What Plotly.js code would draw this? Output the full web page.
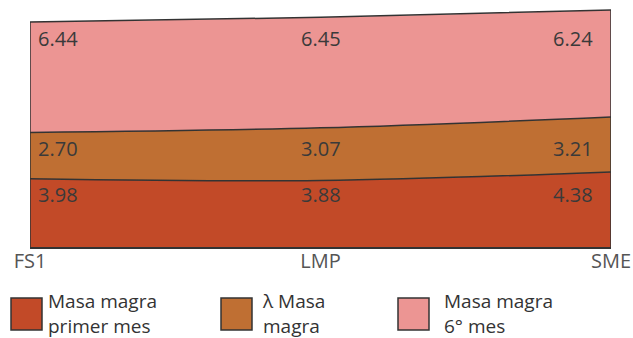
<!DOCTYPE html>
<html>
<head>
<meta charset="utf-8">
<script src="https://cdn.plot.ly/plotly-3.0.1.min.js"></script>
<style>
  html, body { margin: 0; padding: 0; background: #fff; }
  #chart { width: 633px; height: 338px; }
</style>
</head>
<body>
<div id="chart"></div>
<script>
// Lean-mass components per group, stacked bottom to top
const categories = ['FS1', 'LMP', 'SME'];
const primerMes = [3.98, 3.88, 4.38];
const lambdaMasa = [2.70, 3.07, 3.21];
const sextoMes = [6.44, 6.45, 6.24];

const seriesValues = [primerMes, lambdaMasa, sextoMes];
const seriesNames = ['Masa magra<br>primer mes', 'λ Masa<br>magra', 'Masa magra<br>6° mes'];
const seriesColors = ['#C24A28', '#BF6F33', '#EC9593'];

const W = 633, H = 338;
const M = { l: 30, r: 22, t: 7, b: 91 };
const plotW = W - M.l - M.r, plotH = H - M.t - M.b;
const px2x = px => (px - M.l) / plotW;
const px2y = py => (H - M.b - py) / plotH;

const lineStyle = { color: '#333', width: 1.5, shape: 'spline' };
const font = 'Open Sans, Liberation Sans, sans-serif';

const traces = seriesValues.map((vals, i) => ({
  type: 'scatter',
  mode: 'lines',
  x: categories,
  y: vals,
  stackgroup: 'one',
  fillcolor: seriesColors[i],
  line: lineStyle,
  name: seriesNames[i],
  hoverinfo: 'skip',
  showlegend: false
}));

// running totals for label placement and side edges
const cumulative = seriesValues.map((_, i) =>
  categories.map((_, j) => seriesValues.slice(0, i + 1).reduce((s, a) => s + a[j], 0)));
const totals = cumulative[cumulative.length - 1];

[0, categories.length - 1].forEach(j => {
  traces.push({
    type: 'scatter', mode: 'lines',
    x: [categories[j], categories[j]], y: [0, totals[j]],
    line: { color: '#333', width: 1.5 }, hoverinfo: 'skip', showlegend: false
  });
});

// value labels: one row per band, level with the band's top at the first group
const annotations = [];
seriesValues.forEach((vals, i) => {
  vals.forEach((v, j) => {
    const last = j === categories.length - 1;
    annotations.push({
      x: categories[j], y: cumulative[i][0], xref: 'x', yref: 'y',
      text: v.toFixed(2), showarrow: false,
      xanchor: j === 0 ? 'left' : (last ? 'right' : 'center'),
      yanchor: 'middle',
      xshift: j === 0 ? 6 : (last ? -16 : 0),
      yshift: -16,
      font: { family: font, size: 20, color: '#3a3a3a' }
    });
  });
});

// legend swatches and two-line labels
const shapes = [];
const legendSwatchX = [11, 221, 398];
const legendTextX = [47, 261, 443];
seriesNames.forEach((name, i) => {
  shapes.push({
    type: 'rect', xref: 'paper', yref: 'paper',
    x0: px2x(legendSwatchX[i]), x1: px2x(legendSwatchX[i] + 31),
    y0: px2y(330), y1: px2y(298),
    fillcolor: seriesColors[i], line: { color: '#333', width: 1.5 }
  });
  annotations.push({
    xref: 'paper', yref: 'paper',
    x: px2x(legendTextX[i]), y: px2y(313.5),
    xanchor: 'left', yanchor: 'middle', align: 'left', showarrow: false,
    borderpad: 0,
    text: name, font: { family: font, size: 19, color: '#333' }
  });
});

const layout = {
  width: W, height: H,
  margin: M,
  paper_bgcolor: '#fff', plot_bgcolor: '#fff',
  showlegend: false,
  xaxis: {
    type: 'category', range: [0, categories.length - 1],
    showline: true, linecolor: '#333', linewidth: 1.5,
    ticks: '', showgrid: false, zeroline: false,
    ticklabelstandoff: -5,
    tickfont: { family: font, size: 20, color: '#555' }
  },
  yaxis: { range: [0, 14.0], visible: false, fixedrange: true },
  annotations: annotations,
  shapes: shapes
};

Plotly.newPlot('chart', traces, layout, { staticPlot: true });
</script>
</body>
</html>
